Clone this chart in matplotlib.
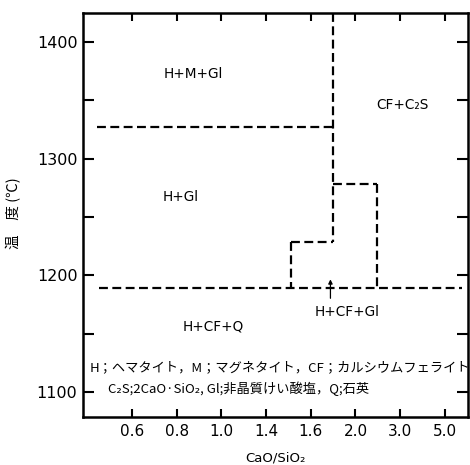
import matplotlib
matplotlib.use("Agg")
import matplotlib.pyplot as plt

plt.rcParams['font.family'] = ['Noto Sans CJK JP', 'DejaVu Sans']

# Ordinal CaO/SiO2 axis
x_labels = ["0.6", "0.8", "1.0", "1.4", "1.6", "2.0", "3.0", "5.0"]
y_ticks = [1100, 1150, 1200, 1250, 1300, 1350, 1400]
y_ticklabels = ["1100", "", "1200", "", "1300", "", "1400"]

# Phase boundaries (x in ordinal axis position, y in °C)
x_main = 4.5          # main vertical boundary (~CaO/SiO2 1.8)
x_step = 3.56         # left step boundary
x_box = 5.48          # right box boundary
t_upper = 1327        # H+M+Gl / H+Gl boundary
t_step = 1229
t_box = 1278
t_lower = 1189        # lower boundary
x_left_upper = -0.78
x_left_lower = -0.74
x_right_lower = 7.38
t_top = 1425

# Region labels: (x, y, text)
region_x = [1.37, 6.05, 1.08, 4.82, 1.82]
region_y = [1373, 1346, 1267, 1169, 1156]
region_txt = ["H+M+Gl", "CF+C₂S", "H+Gl", "H+CF+Gl", "H+CF+Q"]

legend1 = "H；ヘマタイト，M；マグネタイト，CF；カルシウムフェライト"
legend2 = "C₂S;2CaO·SiO₂, Gl;非晶質けい酸塩，Q;石英"

fig = plt.figure(figsize=(4.7, 4.65), dpi=100)
ax = fig.add_axes([83/470, 48/465, 385/470, 404/465])
ax.set_xlim(-1.1, 7.52)
ax.set_ylim(1078.6, 1425)

ls = (0, (4, 2))
kw = dict(color='black', lw=1.6, linestyle=ls)
ax.plot([x_left_upper, x_main], [t_upper, t_upper], **kw)
ax.plot([x_main, x_main], [t_top, t_step], **kw)
ax.plot([x_step, x_main], [t_step, t_step], **kw)
ax.plot([x_step, x_step], [t_step, t_lower], **kw)
ax.plot([x_main, x_box], [t_box, t_box], **kw)
ax.plot([x_box, x_box], [t_box, t_lower], **kw)
ax.plot([x_left_lower, x_right_lower], [t_lower, t_lower], **kw)

# arrow pointing to H+CF+Gl region
ax.annotate("", xy=(4.44, 1199), xytext=(4.44, 1178),
            arrowprops=dict(arrowstyle='-|>', color='black', lw=0.9,
                            mutation_scale=6))

for x, y, t in zip(region_x, region_y, region_txt):
    ax.text(x, y, t, ha='center', va='center', fontsize=9.8,
            family=['DejaVu Sans'])

ax.text(-0.96, 1120.5, legend1, ha='left', va='center', fontsize=9.5)
ax.text(-0.54, 1103, legend2, ha='left', va='center', fontsize=9.5)

ax.set_xticks(range(len(x_labels)))
ax.set_xticklabels(x_labels, fontfamily='DejaVu Sans', fontsize=11)
ax.set_yticks(y_ticks)
ax.set_yticklabels(y_ticklabels, fontfamily='DejaVu Sans', fontsize=11.5)
ax.tick_params(axis='both', direction='in', width=1.5, top=True, right=True)
ax.tick_params(axis='x', length=6, pad=5)
ax.tick_params(axis='y', length=8, pad=4)
for s in ax.spines.values():
    s.set_linewidth(1.8)

fig.text(275/470, 1 - 458/465, "CaO/SiO₂", ha='center', va='center',
         fontsize=9.5, family=['DejaVu Sans'])
fig.text(14/470, 1 - 213/465, "温　度 (℃)", ha='center', va='center',
         rotation=90, fontsize=10.5)

fig.savefig("out.png", dpi=100)
